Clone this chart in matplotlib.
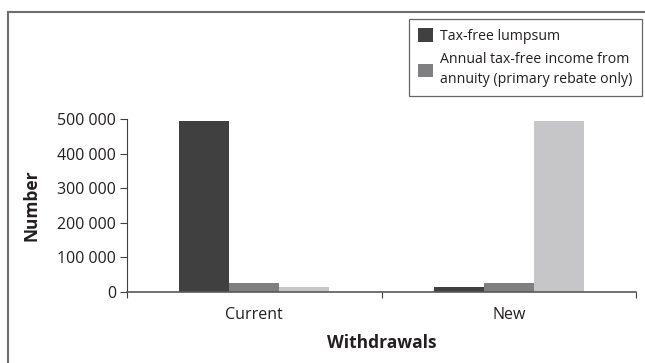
import matplotlib
matplotlib.use("Agg")
import matplotlib.pyplot as plt
from matplotlib.patches import Rectangle
import numpy as np

categories = ['Current', 'New']
lumpsum = [494000, 15000]
annuity = [27000, 27000]
third = [15000, 494000]
labels = ['Tax-free lumpsum', 'Annual tax-free income from\nannuity (primary rebate only)']
yticks = [0, 100000, 200000, 300000, 400000, 500000]
ytick_labels = ['0', '100 000', '200 000', '300 000', '400 000', '500 000']

plt.rcParams['font.family'] = ['Open Sans', 'DejaVu Sans']

fig = plt.figure(figsize=(6.45, 3.63), dpi=100)
ax = fig.add_axes([127 / 645, 71 / 363, 509 / 645, 173 / 363])

x = np.arange(len(categories))
w = 0.197
ax.bar(x - w, lumpsum, w, color='#404040', label=labels[0])
ax.bar(x, annuity, w, color='#7f7f82', label=labels[1])
ax.bar(x + w, third, w, color='#c6c6c8')

ax.set_xlim(-0.5, 1.5)
ax.set_ylim(0, 500000)
ax.set_yticks(yticks)
ax.set_yticklabels(ytick_labels, fontsize=11.5, color='#231f20')
ax.set_xticks([-0.5, 0.5, 1.5])
ax.set_xticklabels(['', '', ''])
ax.set_xticks(x, minor=True)
ax.set_xticklabels(categories, minor=True, fontsize=11.5, color='#231f20')
ax.tick_params(axis='x', which='minor', length=0, pad=11)
ax.tick_params(axis='x', which='major', length=4, direction='out', color='#404040')
ax.tick_params(axis='y', length=5, direction='out', color='#404040', pad=3)

for side in ['top', 'right']:
    ax.spines[side].set_visible(False)
ax.spines['left'].set_color('#404040')
ax.spines['bottom'].set_color('#595959')
ax.spines['bottom'].set_linewidth(1.2)

ax.set_ylabel('Number', fontsize=12.5, fontweight='bold', color='#231f20', labelpad=12)
ax.set_xlabel('Withdrawals', fontsize=12.5, fontweight='bold', color='#231f20', labelpad=8)

leg = fig.legend(loc='upper right', bbox_to_anchor=(642 / 645, 1 - 19 / 363),
                 fontsize=10.2, frameon=True, fancybox=False, edgecolor='#404040',
                 handlelength=1.1, handleheight=1.1, handletextpad=0.5,
                 borderpad=0.65, labelspacing=0.6, borderaxespad=0)
leg.get_frame().set_linewidth(0.9)
for t in leg.get_texts():
    t.set_linespacing(1.45)
    t.set_color('#231f20')

# outer border
fig.patches.append(Rectangle((8 / 645, -0.1), 1.2, 0.1 + (363 - 12) / 363,
                             transform=fig.transFigure, fill=False,
                             edgecolor='#6d6d6d', linewidth=1.5))

fig.savefig('out.png', dpi=100)
